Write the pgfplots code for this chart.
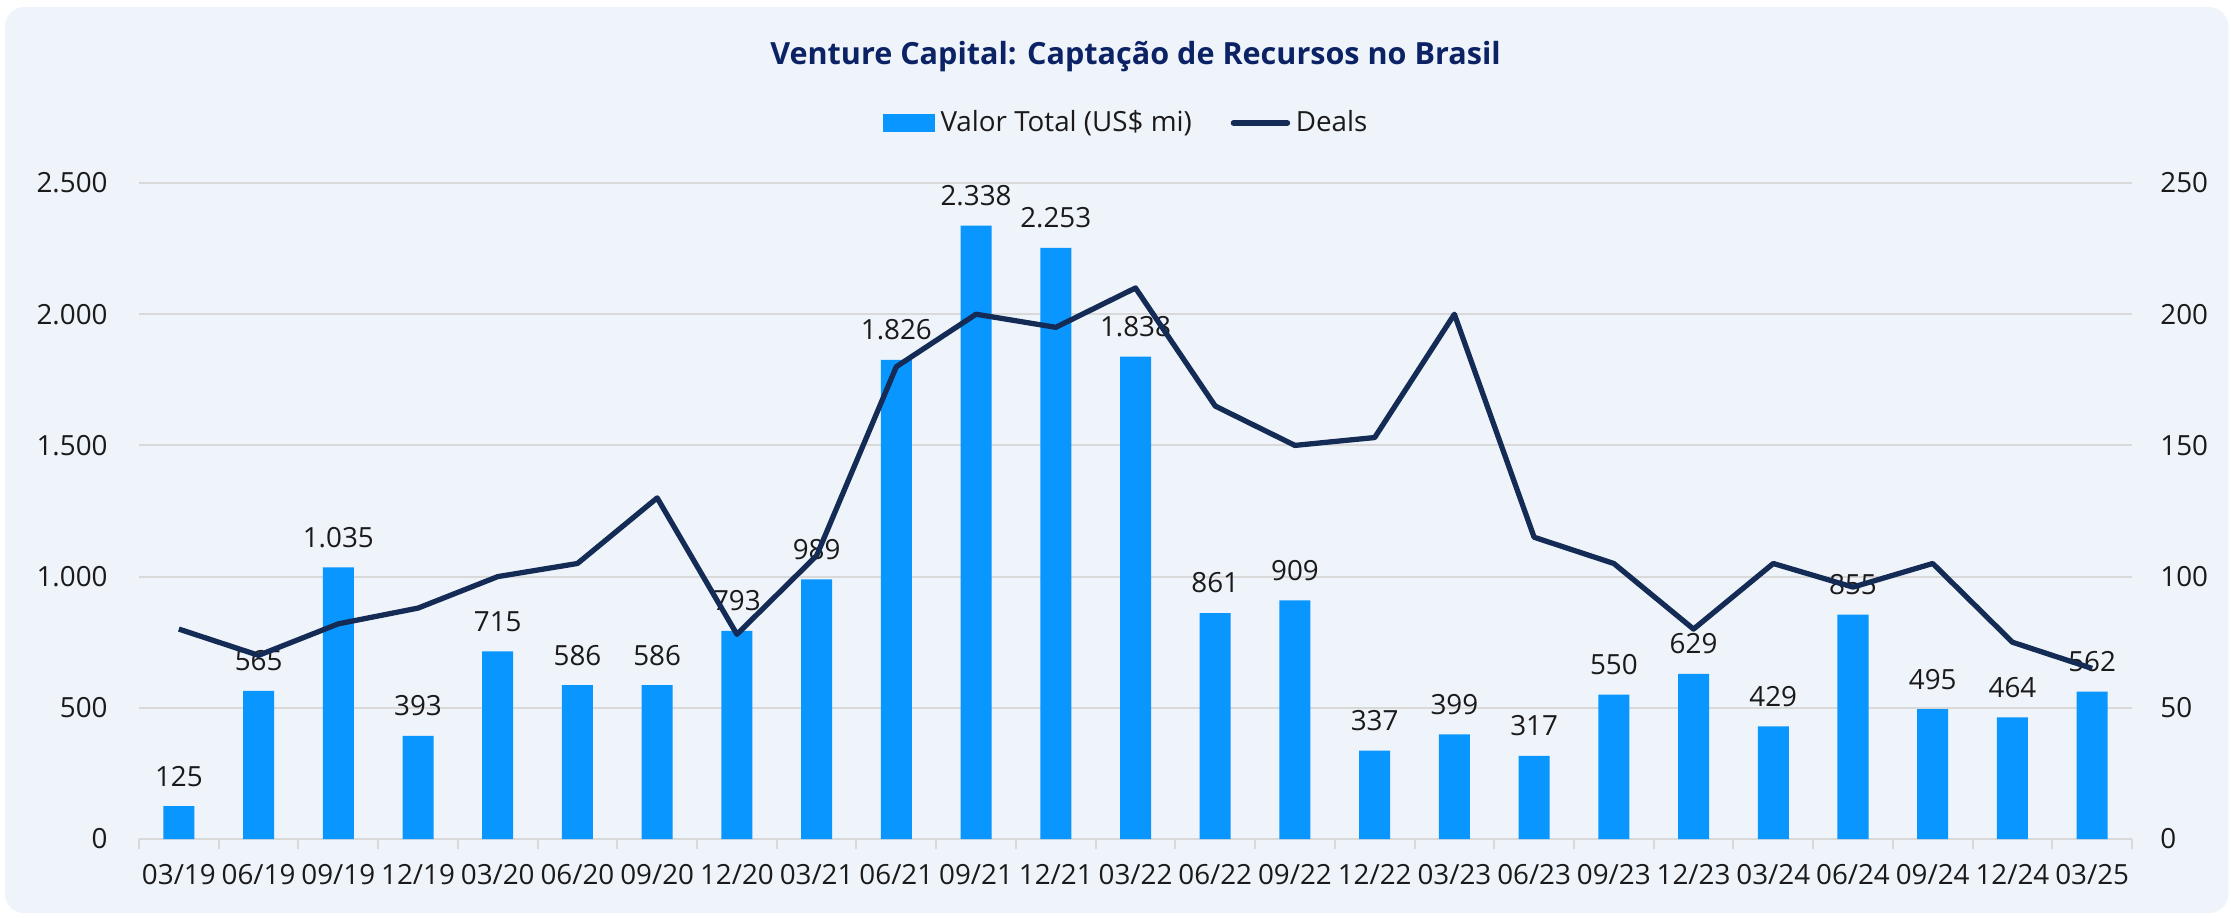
\documentclass[border=0pt]{standalone}
\usepackage{pgfplots}
\pgfplotsset{compat=1.18}
\usepackage{fontspec}
\setmainfont{Open Sans}
\definecolor{panel}{HTML}{EFF3FA}
\definecolor{barblue}{HTML}{0A96FF}
\definecolor{dealnavy}{HTML}{142B55}
\definecolor{titlenavy}{HTML}{0B2265}
\definecolor{gridgray}{HTML}{D9D9D9}
\definecolor{txt}{HTML}{1A1A1A}
\begin{document}
\begin{tikzpicture}
\useasboundingbox (0,0) rectangle (803.16pt,330.12pt);
\fill[white] (0,0) rectangle (803.16pt,330.12pt);
\fill[panel, rounded corners=7pt] (1.8pt,1.4pt) rectangle (802.2pt,327.6pt);
\pgfplotsset{
  common/.style={
    at={(50.04pt,28.08pt)}, anchor=south west,
    scale only axis, width=717.48pt, height=236.16pt,
    xmin=-0.5, xmax=24.5,
    /pgf/number format/assume math mode=true,
    /pgf/number format/1000 sep={.},
    tick label style={font=\fontsize{10}{12}\selectfont, text=txt},
    major tick length=0pt,
  }
}
\begin{axis}[common,
  ymin=0, ymax=2500, ytick={0,500,...,2500},
  axis x line*=bottom, axis y line*=left,
  y axis line style={draw=none},
  x axis line style={draw=gridgray, line width=0.72pt, -},
  ymajorgrids, major grid style={draw=gridgray, line width=0.72pt},
  xtick={0,...,24},
  xticklabels={03/19,06/19,09/19,12/19,03/20,06/20,09/20,12/20,03/21,06/21,09/21,12/21,03/22,06/22,09/22,12/22,03/23,06/23,09/23,12/23,03/24,06/24,09/24,12/24,03/25},
  minor xtick={-0.5,0.5,...,24.5},
  minor tick length=3.6pt, tick align=outside,
  minor tick style={draw=gridgray, line width=0.72pt},
  xticklabel style={yshift=-5.6pt},
  yticklabel style={xshift=-7.8pt},
  clip=false,
  legend columns=2,
  legend style={at={(0.4962,1.0915)}, anchor=center, draw=none, fill=none,
    font=\fontsize{10}{12}\selectfont, text=txt,
    /tikz/every even column/.append style={column sep=12pt}},
  legend cell align=left,
]
\node[font=\fontsize{11}{13}\selectfont\bfseries, text=titlenavy, anchor=center] at (rel axis cs:0.5,1.192) {Venture Capital: Captação de Recursos no Brasil};
\addplot[ybar, bar width=11.16pt, fill=barblue, draw=none,
  nodes near coords,
  every node near coord/.append style={font=\fontsize{10}{12}\selectfont, text=txt, yshift=3.6pt},
  legend image code/.code={\fill[barblue] (0pt,-3.25pt) rectangle (18.7pt,3.25pt);}]
coordinates {
(0,125) (1,565) (2,1035) (3,393) (4,715) (5,586) (6,586) (7,793) (8,989) (9,1826)
(10,2338) (11,2253) (12,1838) (13,861) (14,909) (15,337) (16,399) (17,317) (18,550)
(19,629) (20,429) (21,855) (22,495) (23,464) (24,562)
};
\addlegendentry{Valor Total (US\$ mi)}
\addlegendimage{line legend, draw=dealnavy, line width=1.8pt, legend image code/.code={\draw[dealnavy, line width=2pt, line cap=round] (0pt,0pt) -- (19.4pt,0pt);}}
\addlegendentry{Deals}
\end{axis}
\begin{axis}[common,
  ymin=0, ymax=250, ytick={0,50,...,250},
  axis x line=none, axis y line*=right,
  y axis line style={draw=none},
  xtick=\empty,
  yticklabel style={xshift=6.7pt},
]
\addplot[draw=dealnavy, line width=1.9pt, line join=round, mark=none]
coordinates {
(0,80) (1,70) (2,82) (3,88) (4,100) (5,105) (6,130) (7,78) (8,108) (9,180)
(10,200) (11,195) (12,210) (13,165) (14,150) (15,153) (16,200) (17,115) (18,105)
(19,80) (20,105) (21,96) (22,105) (23,75) (24,65)
};
\end{axis}
\end{tikzpicture}
\end{document}
